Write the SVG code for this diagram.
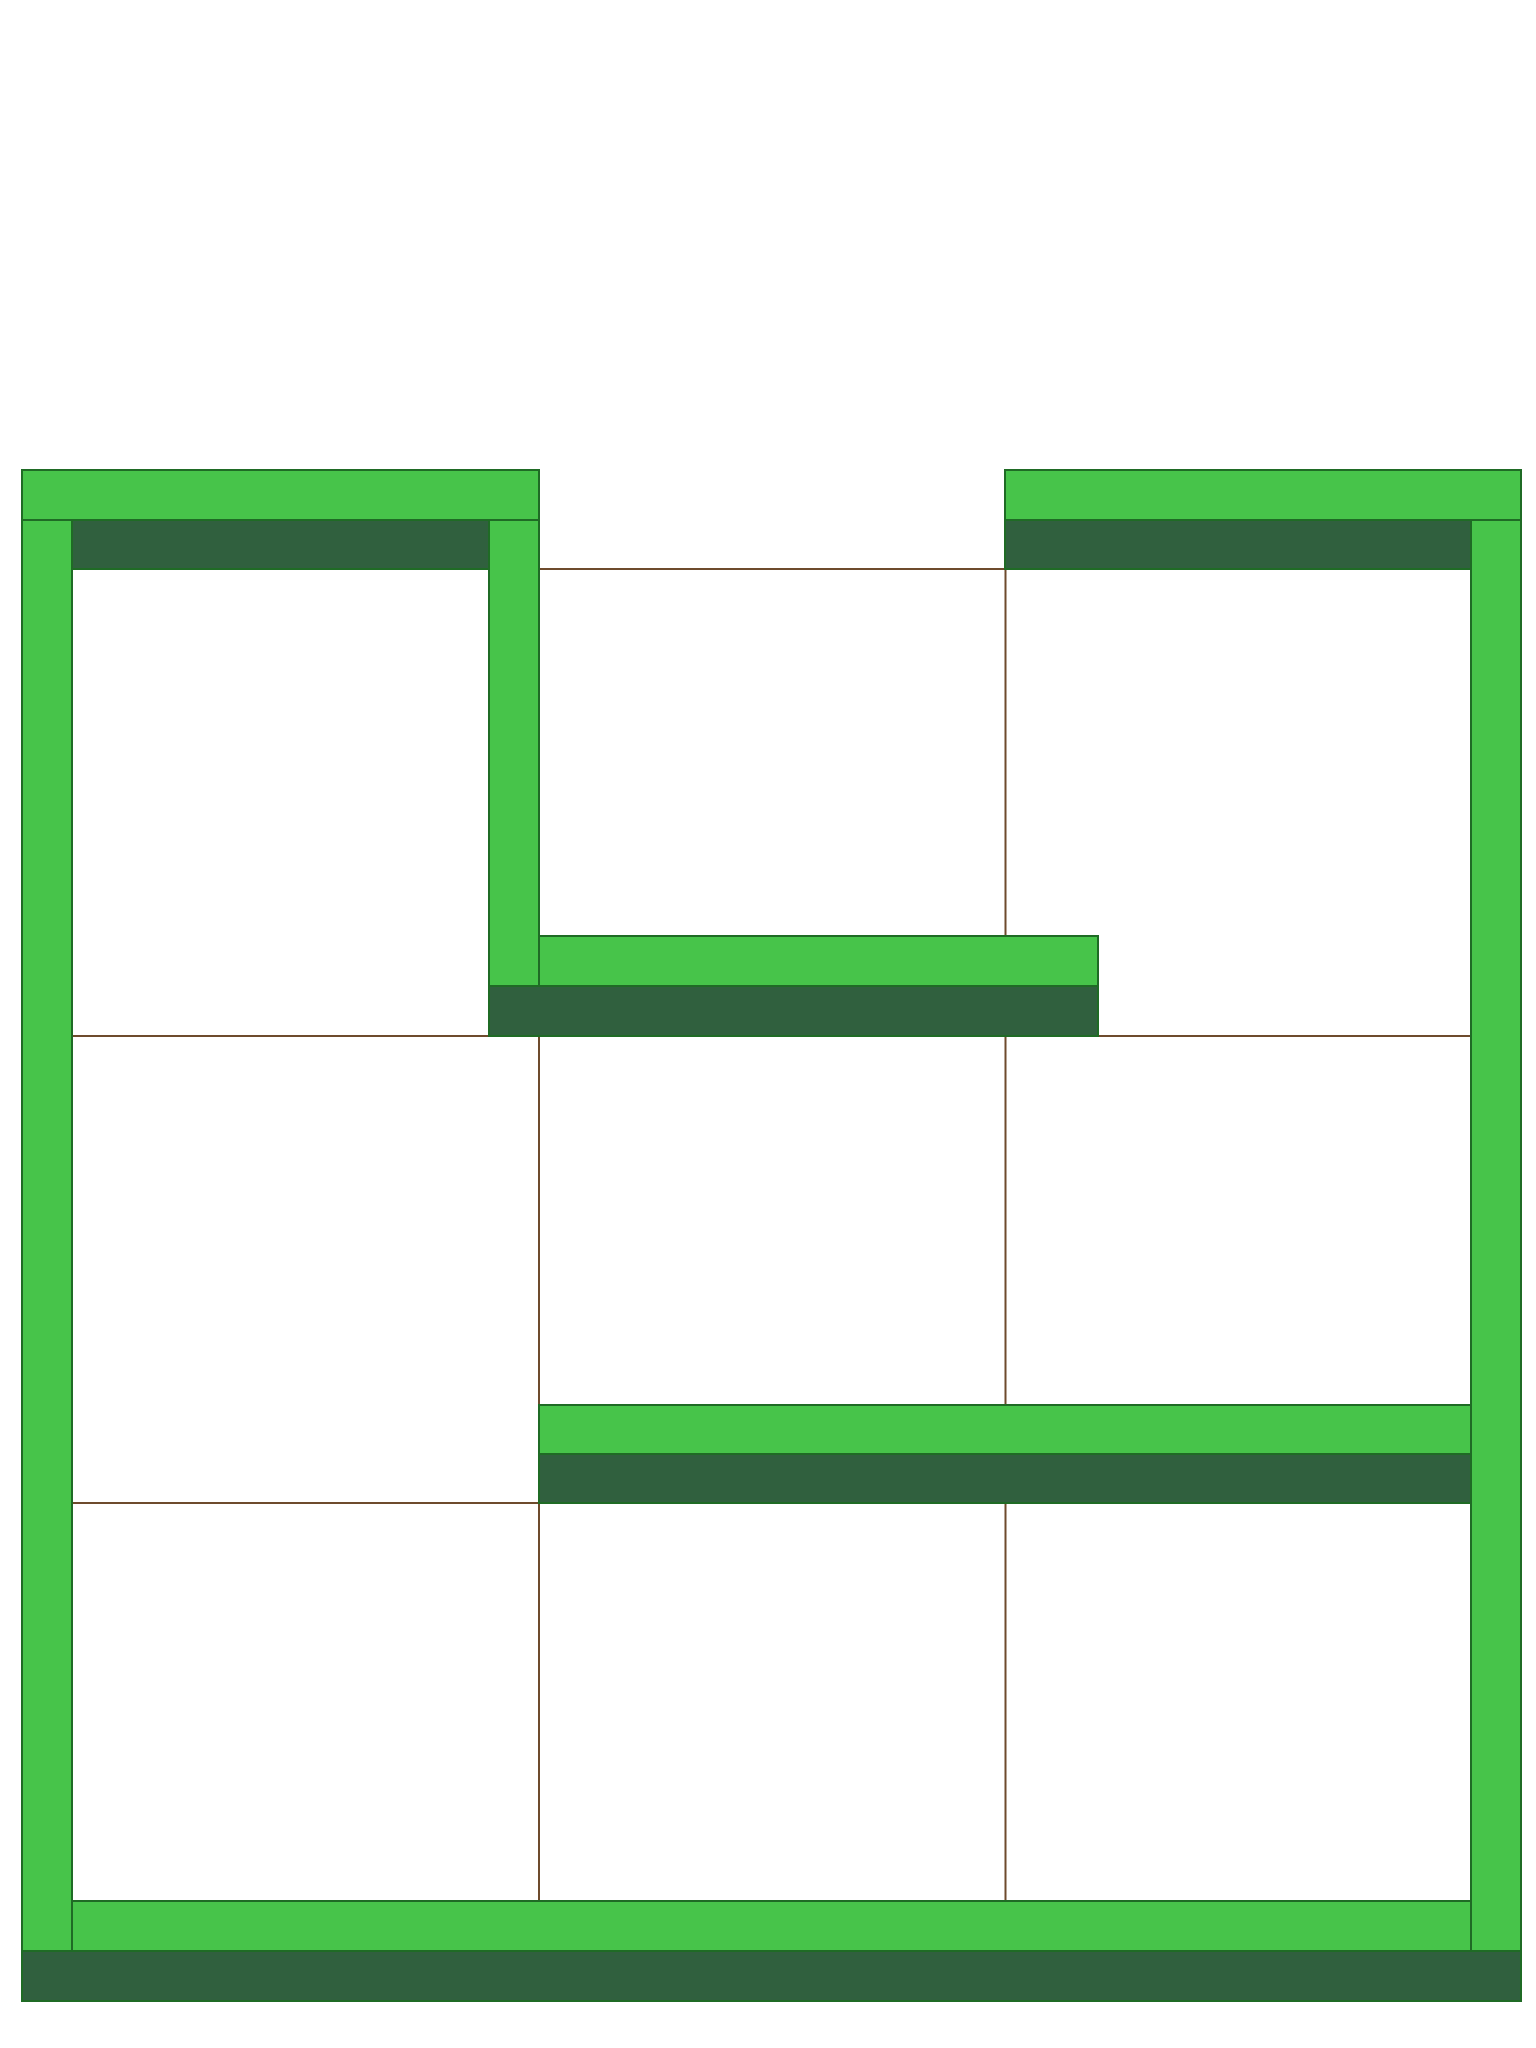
<svg xmlns="http://www.w3.org/2000/svg" width="1536" height="2048" viewBox="0 0 1536 2048">
<style>
.grid{stroke:#6e4b2d;stroke-width:2;fill:none}
.lt{fill:#47c44a;stroke:#1f6b25;stroke-width:2}
.dk{fill:#30603e;stroke:#1f6b25;stroke-width:2}
</style>
<rect width="1536" height="2048" fill="#ffffff"/>
<g id="grid">
<line class="grid" x1="72" y1="569" x2="1472" y2="569"/>
<line class="grid" x1="72" y1="1036" x2="1472" y2="1036"/>
<line class="grid" x1="72" y1="1503" x2="1472" y2="1503"/>
<line class="grid" x1="72" y1="1901" x2="1472" y2="1901"/>
<line class="grid" x1="539" y1="569" x2="539" y2="1901"/>
<line class="grid" x1="1005.5" y1="569" x2="1005.5" y2="1901"/>
</g>
<g id="walls-left">
<rect class="dk" x="72" y="520" width="417" height="49"/>
<rect class="lt" x="22" y="520" width="50" height="1431"/>
<rect class="lt" x="489" y="520" width="50" height="466"/>
<rect class="lt" x="22" y="470" width="517" height="50"/>
</g>
<g id="walls-right">
<rect class="dk" x="1005" y="520" width="466" height="49"/>
<rect class="lt" x="1471" y="520" width="50" height="1431"/>
<rect class="lt" x="1005" y="470" width="516" height="50"/>
</g>
<g id="wall-middle">
<rect class="dk" x="489" y="986" width="609" height="50"/>
<rect class="lt" x="539" y="936" width="559" height="50"/>
</g>
<g id="wall-lower">
<rect class="lt" x="539" y="1405" width="932" height="49"/>
<rect class="dk" x="539" y="1454" width="932" height="49"/>
</g>
<g id="wall-bottom">
<rect class="lt" x="72" y="1901" width="1399" height="50"/>
<rect class="dk" x="22" y="1951" width="1499" height="50"/>
</g>
</svg>
